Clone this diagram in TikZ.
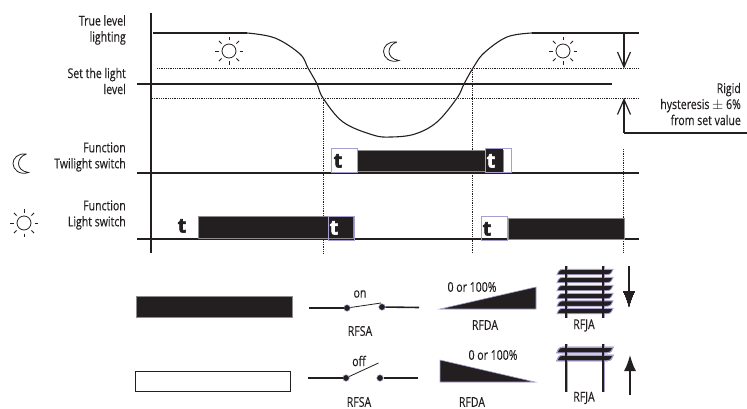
\documentclass[tikz,border=0pt]{standalone}
\usepackage{fontspec}
\setmainfont{Open Sans}[FakeStretch=0.78,FakeBold=0.3]
\usetikzlibrary{arrows.meta}
\definecolor{barblack}{HTML}{231F20}
\definecolor{boxviolet}{HTML}{A79FD0}
\newfontfamily\tfont{Open Sans}[BoldFeatures={FakeBold=3}]
\tikzset{
    heavy/.style={line width=1.6pt,color=barblack},
    lab/.style={font=\fontsize{13.5}{16}\selectfont,align=right,anchor=east,inner sep=0pt,text=barblack},
    legendtext/.style={font=\fontsize{13.5}{14}\selectfont,inner sep=0pt,text=barblack},
    hyst/.style={line width=.8pt,densely dotted,color=barblack},
    bar/.style={fill=barblack,draw=black!45,line width=.4pt},
    tbox/.style={draw=boxviolet,line width=.9pt},
    tlab/.style={font=\tfont\bfseries\fontsize{20}{20}\selectfont,inner sep=0pt,text=barblack},
    dot/.style={circle,fill=barblack,draw=boxviolet,line width=.5pt,minimum size=6.5pt,inner sep=0pt},
    post/.style={line width=1.8pt,color=barblack},
}
\newcommand{\sunicon}[2]{%
    \draw[line width=.8pt,color=barblack] (#1,#2) circle (7);
    \foreach \a in {0,45,...,315}
        \draw[line width=.8pt,color=barblack] (#1,#2) ++(\a:10.5) -- ++(\a:3.7);
}
\newcommand{\moonicon}[2]{%
    \draw[line width=.8pt,color=barblack,shift={(#1,#2)}] (6,-9.5) .. controls (-3,-10.5) and (-7.5,-5) .. (-7.5,0)
        .. controls (-7.5,6) and (-1,12) .. (8,9) .. controls (1,8) and (-2,4) .. (-2,0)
        .. controls (-2,-4) and (1,-8) .. (6,-9.5);
}
\newcommand{\slaticon}[1]{%
    \draw[fill=barblack,draw=boxviolet,line width=.9pt] (557,#1+2.7) .. controls (558,#1) and (559,#1-2.7) .. (563,#1-2.7) -- (613,#1-2.7)
        .. controls (612,#1) and (611,#1+2.7) .. (607,#1+2.7) -- cycle;
}
\begin{document}
\begin{tikzpicture}[x=1pt,y=-1pt]
    \useasboundingbox (0,0) rectangle (747,409);
    % dotted levels and guides
    \draw[hyst] (157,68.5) -- (639,68.5);
    \draw[hyst] (152,98) -- (639,98);
    \draw[hyst] (323,98) -- (323,253);
    \draw[hyst] (472.5,68.5) -- (472.5,253);
    \draw[hyst] (623,149) -- (623,253);
    % axes
    \draw[heavy] (151,13) -- (151,253);
    \draw[heavy] (137,84) -- (612,84);
    \draw[heavy] (137,173) -- (639,173);
    \draw[heavy] (137,239) -- (639,239);
    \draw[heavy] (153,33) -- (247,33);
    \draw[heavy] (532,33) -- (639,33);
    \draw[line width=1.1pt,color=barblack] plot[smooth,tension=.6] coordinates {(247,33) (275,38) (300,54) (308,68) (317,84) (323,98) (343,122) (373,135) (391,137) (415,134) (437,122) (457,98) (464,84) (473,68) (484,53) (507,37) (532,33)};
    % hysteresis
    \draw[heavy,-{Straight Barb[length=15pt,width=13pt,line width=1.2pt]}] (624,33) -- (624,68.5);
    \draw[heavy,-{Straight Barb[length=15pt,width=13pt,line width=1.2pt]}] (624,133) -- (624,98);
    \draw[heavy] (624,133) -- (747,133);
    \node[lab] (rigid) at (741,104) {Rigid\\hysteresis $\pm$ 6\%\\from set value};
    % labels
    \node[lab] (lighting) at (126,30) {True level\\lighting};
    \node[lab] (setlevel) at (126,81) {Set the light\\level};
    \node[lab] (twilight) at (126,157) {Function\\Twilight switch};
    \node[lab] (lightsw) at (126,215) {Function\\Light switch};
    % icons
    \sunicon{229}{51}
    \sunicon{563}{51}
    \sunicon{24}{223}
    \moonicon{391}{51.5}
    \moonicon{20.5}{163.5}
    % twilight switch
    \fill[bar] (357,150) rectangle (503,171.5);
    \draw[tbox] (331,148) rectangle (357,172.5);
    \draw[tbox] (485,148) rectangle (511,172.5);
    \fill[barblack] (485.5,149) rectangle (503,172);
    \node[tlab] (ttwo) at (338,161) {t};
    \node[tlab,text=white] (tthree) at (491,161) {t};
    % light switch
    \node[tlab] (tone) at (182,226) {t};
    \fill[bar] (198,216) rectangle (353,238);
    \draw[tbox] (328.5,216) rectangle (354,240);
    \node[tlab,text=white] (tfour) at (334,228) {t};
    \draw[tbox] (481,216) rectangle (507,240);
    \node[tlab] (tfive) at (487,229) {t};
    \fill[bar] (508,218) rectangle (624,239);
    % legend bars
    \fill[bar] (136,296) rectangle (292,317);
    \draw[line width=.9pt,color=barblack,fill=white] (135,371) rectangle (290,391);
    % switches
    \node[dot] (onl) at (347,308) {};
    \node[dot] (onr) at (382,307) {};
    \draw[heavy] (309,308) -- (onl);
    \draw[heavy] (onr) -- (419,307.5);
    \draw[line width=.8pt,color=barblack] (onl) -- (381,303);
    \node[legendtext] (ontext) at (360,294) {on};
    \node[legendtext] (rfsaon) at (360,331) {RFSA};
    \node[dot] (offl) at (346,378) {};
    \node[dot] (offr) at (380,378) {};
    \draw[heavy] (308,378) -- (offl);
    \draw[heavy] (offr) -- (418,378);
    \draw[line width=.8pt,color=barblack] (offl) -- (378.5,363);
    \node[legendtext] (offtext) at (359,361) {off};
    \node[legendtext] (rfsaoff) at (359,402) {RFSA};
    % dimmers
    \draw[fill=barblack,draw=boxviolet,line width=.6pt] (440,309) -- (536,309) -- (536,287) -- cycle;
    \node[legendtext] (pcton) at (472,287) {0 or 100\%};
    \node[legendtext] (rfdaon) at (485,325) {RFDA};
    \draw[fill=barblack,draw=boxviolet,line width=.6pt] (440,360) -- (440,382) -- (535,382) -- cycle;
    \node[legendtext] (pctoff) at (493,355) {0 or 100\%};
    \node[legendtext] (rfdaoff) at (472,402) {RFDA};
    % blinds
    \node[legendtext] (rfjaon) at (584,325.5) {RFJA};
    \node[legendtext] (rfjaoff) at (584,398) {RFJA};
    \foreach \x in {566,603} {
        \draw[line width=3pt,color=boxviolet] (\x,266) -- (\x,318);
        \draw[line width=3pt,color=boxviolet] (\x,344) -- (\x,392);
    }
    \foreach \y in {272,280,288,296,303.5,311}
        \slaticon{\y}
    \foreach \y in {350,358}
        \slaticon{\y}
    \foreach \x in {566,603} {
        \draw[post] (\x,266) -- (\x,318);
        \draw[post] (\x,344) -- (\x,392);
    }
    \draw[heavy,-{Latex[length=16pt,width=12pt]}] (629,266) -- (629,307);
    \draw[heavy,-{Latex[length=16pt,width=12pt]}] (630,395) -- (630,355);
\end{tikzpicture}
\end{document}
